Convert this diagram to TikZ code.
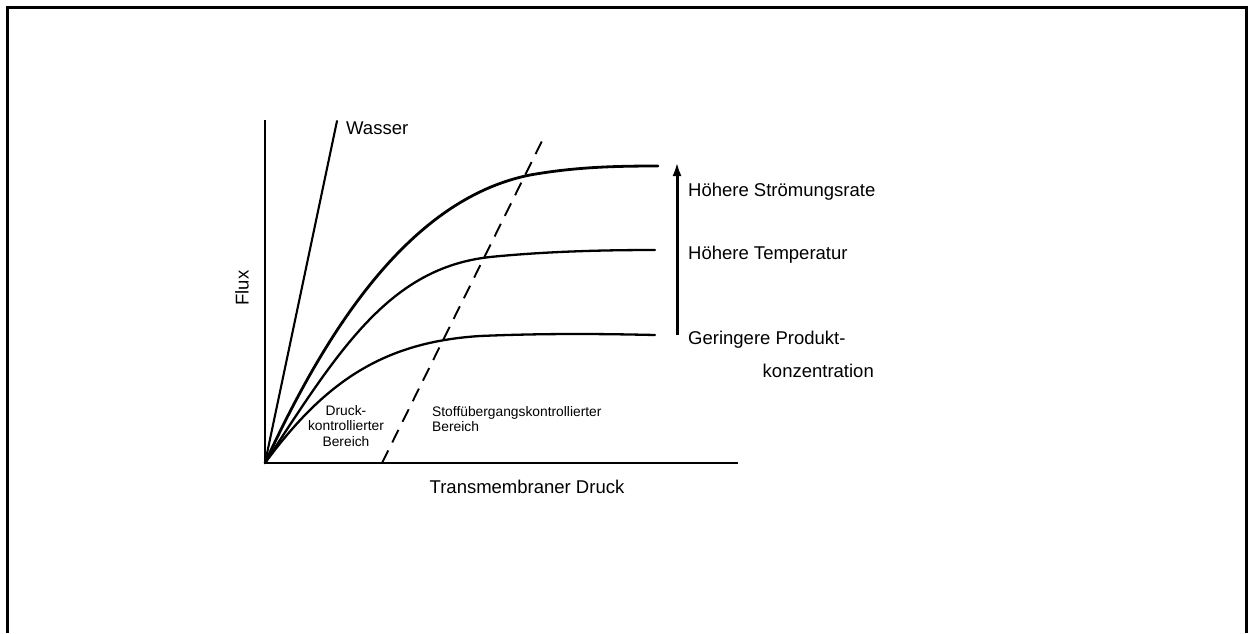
\documentclass[tikz,border=0pt]{standalone}
\usepackage{fontspec}
\setmainfont{Liberation Sans}
\usetikzlibrary{arrows.meta}
\begin{document}
\begin{tikzpicture}[x=1pt,y=-1pt,
  frame/.style={line width=3pt},
  axis/.style={line width=2.6pt},
  curve/.style={line width=2.3pt, line cap=round},
  limit/.style={line width=1.9pt, dash pattern=on 14pt off 9pt},
  biglabel/.style={inner sep=0pt, font=\fontsize{18.5}{22}\selectfont},
  smalllabel/.style={inner sep=0pt, font=\fontsize{13.8}{15.5}\selectfont}]
\useasboundingbox (0,0) rectangle (1253,633);
% outer frame, open at the bottom
\draw[frame] (7,633) -- (7,7) -- (1246,7) -- (1246,633);

% axes
\coordinate (O) at (265,463);
\coordinate (ytop) at (265,120);
\coordinate (xend) at (738,463);
\draw[axis] (ytop) -- (O) -- (xend);

% pure water line
\coordinate (wtop) at (337,121);
\draw[curve, line width=2.1pt] (O) -- (wtop);
\node[biglabel, anchor=west] (wasser) at (346,128) {Wasser};

% flux curves
\coordinate (c1) at (658,166);
\coordinate (c2) at (655,250);
\coordinate (c3) at (655,335);
\draw[curve, line width=2.8pt] (O) .. controls (322,340) and (405,200) .. (530,175)
  .. controls (575,167) and (615,166) .. (c1);
\draw[curve] (O) .. controls (340,348) and (390,268) .. (490,257)
  .. controls (550,251) and (610,250) .. (c2);
\draw[curve] (O) .. controls (326,380) and (385,342) .. (480,336)
  .. controls (550,333) and (610,334) .. (c3);

% boundary between the two regimes
\coordinate (dlow) at (382,463);
\coordinate (dhigh) at (545,135);
\draw[limit] (dlow) -- (dhigh);

% axis labels
\node[biglabel, rotate=90] (flux) at (242,288) {Flux};
\node[biglabel] (xlabel) at (527,487) {Transmembraner Druck};

% region labels
\node[smalllabel, align=center] (druck) at (346,426) {Druck-\\kontrollierter\\Bereich};
\node[smalllabel, align=left, anchor=west] (stoff) at (432,419) {Stoffübergangskontrollierter\\Bereich};

% influence arrow and its labels
\coordinate (abot) at (677,335);
\coordinate (atop) at (677,162);
\draw[line width=3pt, -{Latex[length=14pt,width=9pt]}] (abot) -- (atop);
\node[biglabel, anchor=west] (rate) at (688,192) {Höhere Strömungsrate};
\node[biglabel, anchor=west] (temp) at (688,255) {Höhere Temperatur};
\node[biglabel, anchor=west] (konz) at (688,340) {Geringere Produkt-};
\node[biglabel, anchor=east] (konz2) at (874,371) {konzentration};
\end{tikzpicture}
\end{document}
